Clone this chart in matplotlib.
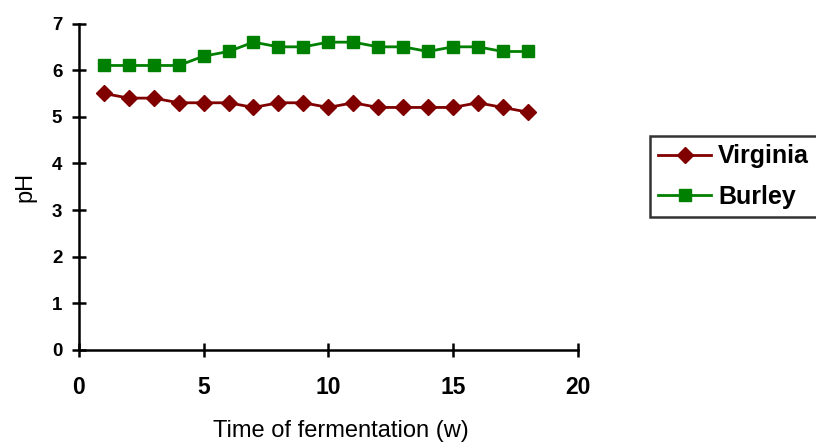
import matplotlib.pyplot as plt

# pH during fermentation
weeks = list(range(1, 19))
virginia = [5.5, 5.4, 5.4, 5.3, 5.3, 5.3, 5.2, 5.3, 5.3, 5.2, 5.3, 5.2, 5.2, 5.2, 5.2, 5.3, 5.2, 5.1]
burley = [6.1, 6.1, 6.1, 6.1, 6.3, 6.4, 6.6, 6.5, 6.5, 6.6, 6.6, 6.5, 6.5, 6.4, 6.5, 6.5, 6.4, 6.4]

plt.rcParams['font.family'] = ['Liberation Sans', 'DejaVu Sans']

fig = plt.figure(figsize=(8.16, 4.48), dpi=100)
ax = fig.add_axes([0.0968, 0.219, 0.611, 0.7285])

ax.plot(weeks, virginia, color='#800000', marker='D', markersize=8, linewidth=2, label='Virginia')
ax.plot(weeks, burley, color='#008000', marker='s', markersize=8.5, linewidth=2, label='Burley')

ax.set_xlim(0, 20)
ax.set_ylim(0, 7)
ax.set_xticks([0, 5, 10, 15, 20])
ax.set_yticks(range(0, 8))
for s in ['top', 'right']:
    ax.spines[s].set_visible(False)
for s in ['left', 'bottom']:
    ax.spines[s].set_linewidth(1.8)
ax.tick_params(direction='inout', length=10, width=1.8)
ax.tick_params(axis='x', labelsize=16.5, pad=14)
ax.tick_params(axis='y', labelsize=13.5, pad=7)
for t in ax.get_xticklabels() + ax.get_yticklabels():
    t.set_fontweight('bold')
ax.set_xlabel('Time of fermentation (w)', fontsize=17)
ax.set_ylabel('pH', fontsize=17)
ax.xaxis.set_label_coords(0.526, -0.215)
ax.yaxis.set_label_coords(-0.086, 0.5)

leg = fig.legend(loc='upper left', bbox_to_anchor=(650 / 816, 1 - 136 / 448),
                 prop={'weight': 'bold', 'size': 18}, frameon=True, fancybox=False,
                 edgecolor='black', handlelength=2.1, handletextpad=0.3, borderpad=0.33,
                 labelspacing=0.65, borderaxespad=0)
leg.get_frame().set_linewidth(1.8)

fig.savefig('out.png', dpi=100)
